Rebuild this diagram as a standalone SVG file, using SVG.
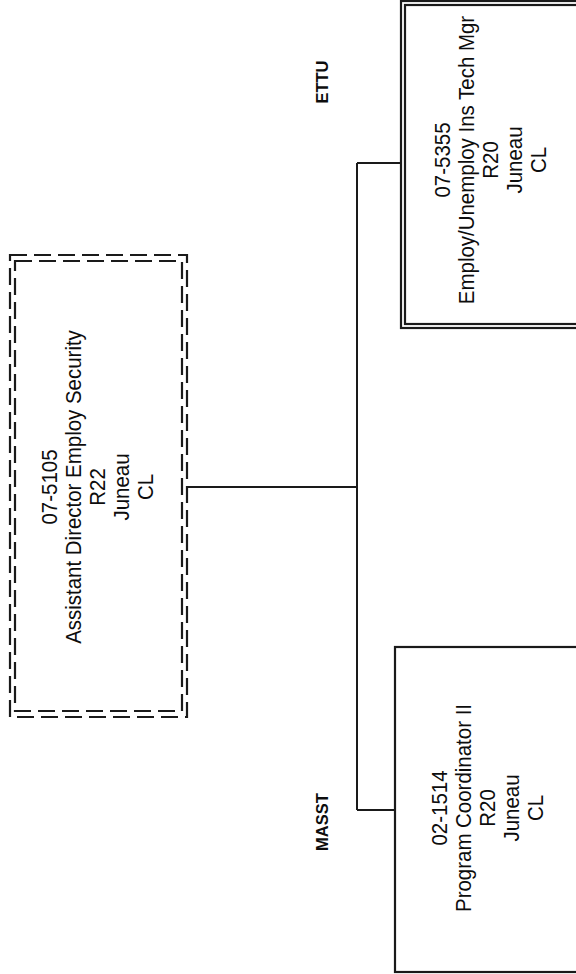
<svg xmlns="http://www.w3.org/2000/svg" width="576" height="974" viewBox="0 0 576 974">
<style>
.bg{fill:#ffffff}
.box{fill:#ffffff;stroke:#1a1a1a;stroke-width:2.2}
.dash{fill:none;stroke:#1a1a1a;stroke-width:2.2;stroke-dasharray:17 7}
.conn{fill:none;stroke:#1a1a1a;stroke-width:2}
.t{font-family:"Liberation Sans",Arial,sans-serif;font-size:22px;fill:#0d0d0d;text-anchor:middle}
.lbl{font-family:"Liberation Sans",Arial,sans-serif;font-size:16.5px;font-weight:bold;fill:#0d0d0d;text-anchor:middle}
</style>
<rect class="bg" x="0" y="0" width="576" height="974"/>
<g id="connectors">
<path class="conn" d="M187 487 H357"/>
<path class="conn" d="M357 163 V810"/>
<path class="conn" d="M357 163 H401"/>
<path class="conn" d="M357 810 H395"/>
</g>
<g id="node-07-5105">
<rect class="dash" x="10" y="255" width="177" height="462"/>
<rect class="dash" x="15" y="261" width="167" height="450"/>
<g transform="translate(98,487) rotate(-90) scale(0.93,1)">
<text class="t" x="0" y="-41">07-5105</text>
<text class="t" x="0" y="-17">Assistant Director Employ Security</text>
<text class="t" x="0" y="7">R22</text>
<text class="t" x="0" y="31">Juneau</text>
<text class="t" x="0" y="55">CL</text>
</g>
</g>
<g id="node-07-5355">
<rect class="box" x="401" y="1" width="190" height="327"/>
<rect class="box" x="405" y="5" width="186" height="319"/>
<g transform="translate(491,160) rotate(-90) scale(0.93,1)">
<text class="t" x="0" y="-41">07-5355</text>
<text class="t" x="0" y="-17">Employ/Unemploy Ins Tech Mgr</text>
<text class="t" x="0" y="7">R20</text>
<text class="t" x="0" y="31">Juneau</text>
<text class="t" x="0" y="55">CL</text>
</g>
</g>
<g id="node-02-1514">
<rect class="box" x="395" y="647" width="200" height="325"/>
<g transform="translate(488,808) rotate(-90) scale(0.93,1)">
<text class="t" x="0" y="-41">02-1514</text>
<text class="t" x="0" y="-17">Program Coordinator II</text>
<text class="t" x="0" y="7">R20</text>
<text class="t" x="0" y="31">Juneau</text>
<text class="t" x="0" y="55">CL</text>
</g>
</g>
<g id="label-ettu">
<text class="lbl" transform="translate(328,82) rotate(-90)">ETTU</text>
</g>
<g id="label-masst">
<text class="lbl" transform="translate(328,822) rotate(-90)">MASST</text>
</g>
</svg>
